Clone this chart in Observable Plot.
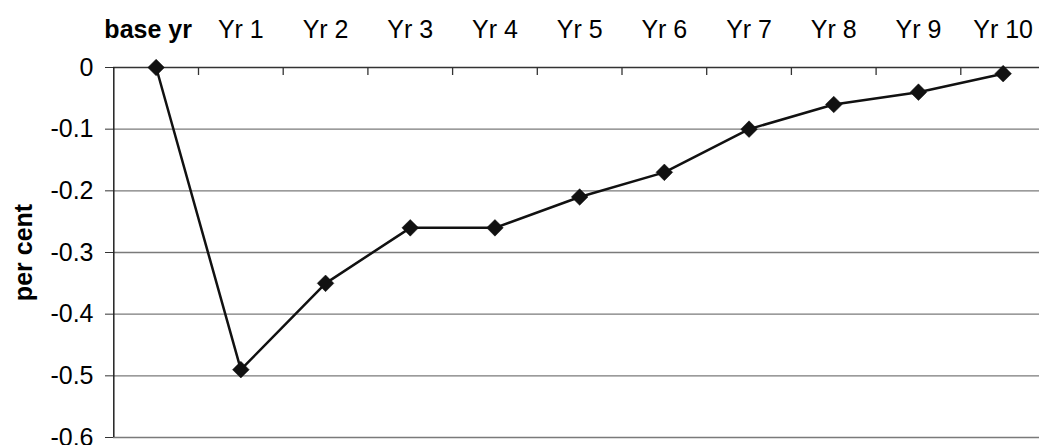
<!DOCTYPE html>
<html>
<head>
<meta charset="utf-8">
<script src="https://cdn.jsdelivr.net/npm/d3@7"></script>
<script src="https://cdn.jsdelivr.net/npm/@observablehq/plot@0.6"></script>
<style>
  html, body { margin: 0; padding: 0; background: #fff; overflow: hidden; }
  #chart svg { display: block; overflow: hidden; }
</style>
</head>
<body>
<div id="chart"></div>
<script>
const categories = ["base yr", "Yr 1", "Yr 2", "Yr 3", "Yr 4", "Yr 5", "Yr 6", "Yr 7", "Yr 8", "Yr 9", "Yr 10"];
const values = [0, -0.49, -0.35, -0.26, -0.26, -0.21, -0.17, -0.10, -0.06, -0.04, -0.01];
const yTicks = [0, -0.1, -0.2, -0.3, -0.4, -0.5, -0.6];
const yTickLabels = ["0", "-0.1", "-0.2", "-0.3", "-0.4", "-0.5", "-0.6"];
const yLabel = "per cent";

const data = categories.map((c, i) => ({cat: c, i, v: values[i]}));
const boundaries = categories.slice(1).map((c, i) => i + 0.5);
const font = "'Liberation Sans', Arial, sans-serif";

const chart = Plot.plot({
  width: 1039,
  height: 445,
  marginTop: 67,
  marginBottom: 8,
  marginLeft: 113,
  marginRight: 0,
  style: {fontFamily: font, fontSize: "25px", color: "#000", background: "#fff"},
  x: {domain: [-0.5, categories.length - 0.5], range: [113.3, 1045], axis: null},
  y: {domain: [-0.6, 0], axis: null},
  marks: [
    Plot.ruleY(yTicks.filter(d => d !== 0), {stroke: "#7a7a7a", strokeWidth: 1.3}),
    Plot.axisY({
      ticks: yTicks,
      tickFormat: (d) => yTickLabels[yTicks.indexOf(d)],
      tickSize: 8,
      tickPadding: 12,
      fontSize: 25,
      label: null,
      stroke: "#333",
      fill: "#000"
    }),
    Plot.ruleY([0], {stroke: "#333", strokeWidth: 1.5}),
    Plot.ruleX([-0.5], {y1: -0.6, y2: 0, stroke: "#222", strokeWidth: 1.5}),
    Plot.ruleX(boundaries, {x: d => d, y1: 0, y2: 0, insetBottom: -8, stroke: "#333", strokeWidth: 1.3}),
    Plot.text(data.slice(0, 1), {x: "i", text: "cat", frameAnchor: "top", dx: -8, dy: -38, lineAnchor: "middle", fontWeight: "bold", fontSize: 25, fill: "#000"}),
    Plot.text(data.slice(1), {x: "i", text: "cat", frameAnchor: "top", dy: -38, lineAnchor: "middle", fontSize: 25, fill: "#000"}),
    Plot.text([yLabel], {text: d => d, frameAnchor: "left", textAnchor: "middle", lineAnchor: "middle", dx: -90, rotate: -90, fontWeight: "bold", fontSize: 25, fill: "#000"}),
    Plot.line(data, {x: "i", y: "v", stroke: "#111", strokeWidth: 2.5}),
    Plot.dot(data, {x: "i", y: "v", symbol: "diamond2", r: 7.5, fill: "#111", stroke: "#111", strokeWidth: 0.5})
  ]
});
document.getElementById("chart").appendChild(chart);
</script>
</body>
</html>
